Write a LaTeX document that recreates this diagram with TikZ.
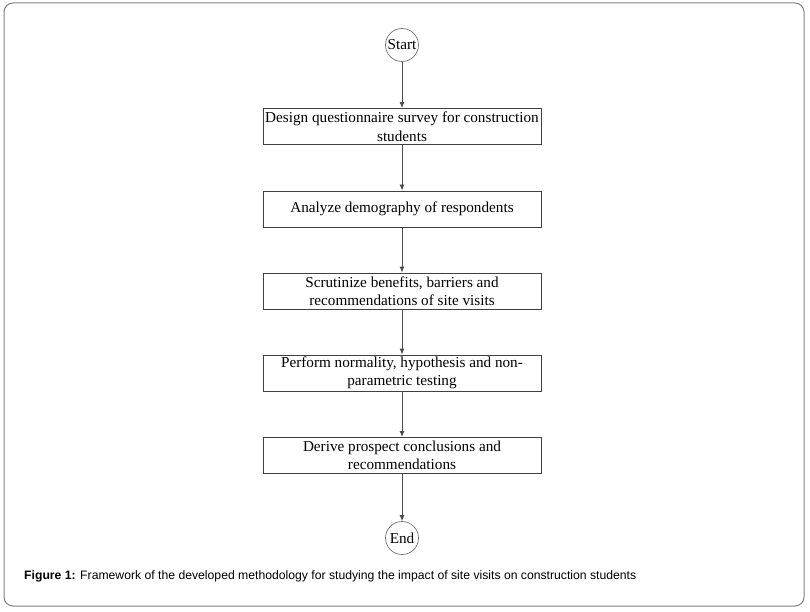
\documentclass[tikz,border=0pt]{standalone}
\usepackage{fontspec}
\setmainfont{Liberation Serif}
\newfontfamily\capfont{Liberation Sans}
\usetikzlibrary{arrows.meta}
\begin{document}
\begin{tikzpicture}[x=1pt,y=-1pt,
  stepbox/.style={draw=black!75, line width=0.9pt, minimum width=278pt, minimum height=36pt, align=center, inner sep=1pt, font=\fontsize{15.2}{18.5}\selectfont},
  term/.style={draw=black!55, line width=0.7pt, circle, minimum size=33pt, inner sep=0pt, font=\fontsize{15.2}{16}\selectfont},
  flow/.style={draw=black!70, line width=0.9pt, -{Latex[length=6pt,width=5pt]}}]
\useasboundingbox (0,0) rectangle (810,612);
\draw[black!50, line width=1pt, rounded corners=9pt] (4,3) rectangle (804,606);
\node[term] (start) at (402,45) {Start};
\node[stepbox] (s1) at (402,126.5) {Design questionnaire survey for construction\\students};
\node[stepbox] (s2) at (402,209) {Analyze demography of respondents};
\node[stepbox] (s3) at (402,291) {Scrutinize benefits, barriers and\\recommendations of site visits};
\node[stepbox] (s4) at (402,373) {Perform normality, hypothesis and non-\\parametric testing};
\node[stepbox] (s5) at (402,455.5) {Derive prospect conclusions and\\recommendations};
\node[term] (end) at (402,538) {End};
\draw[flow] (start) -- (s1);
\draw[flow] (s1) -- (s2);
\draw[flow] (s2) -- (s3);
\draw[flow] (s3) -- (s4);
\draw[flow] (s4) -- (s5);
\draw[flow] (s5) -- (end);
\node[anchor=west, inner sep=0pt, font=\capfont\fontsize{12.2}{14}\selectfont] (cap) at (24,576) {\textbf{Figure 1:} Framework of the developed methodology for studying the impact of site visits on construction students};
\end{tikzpicture}
\end{document}
